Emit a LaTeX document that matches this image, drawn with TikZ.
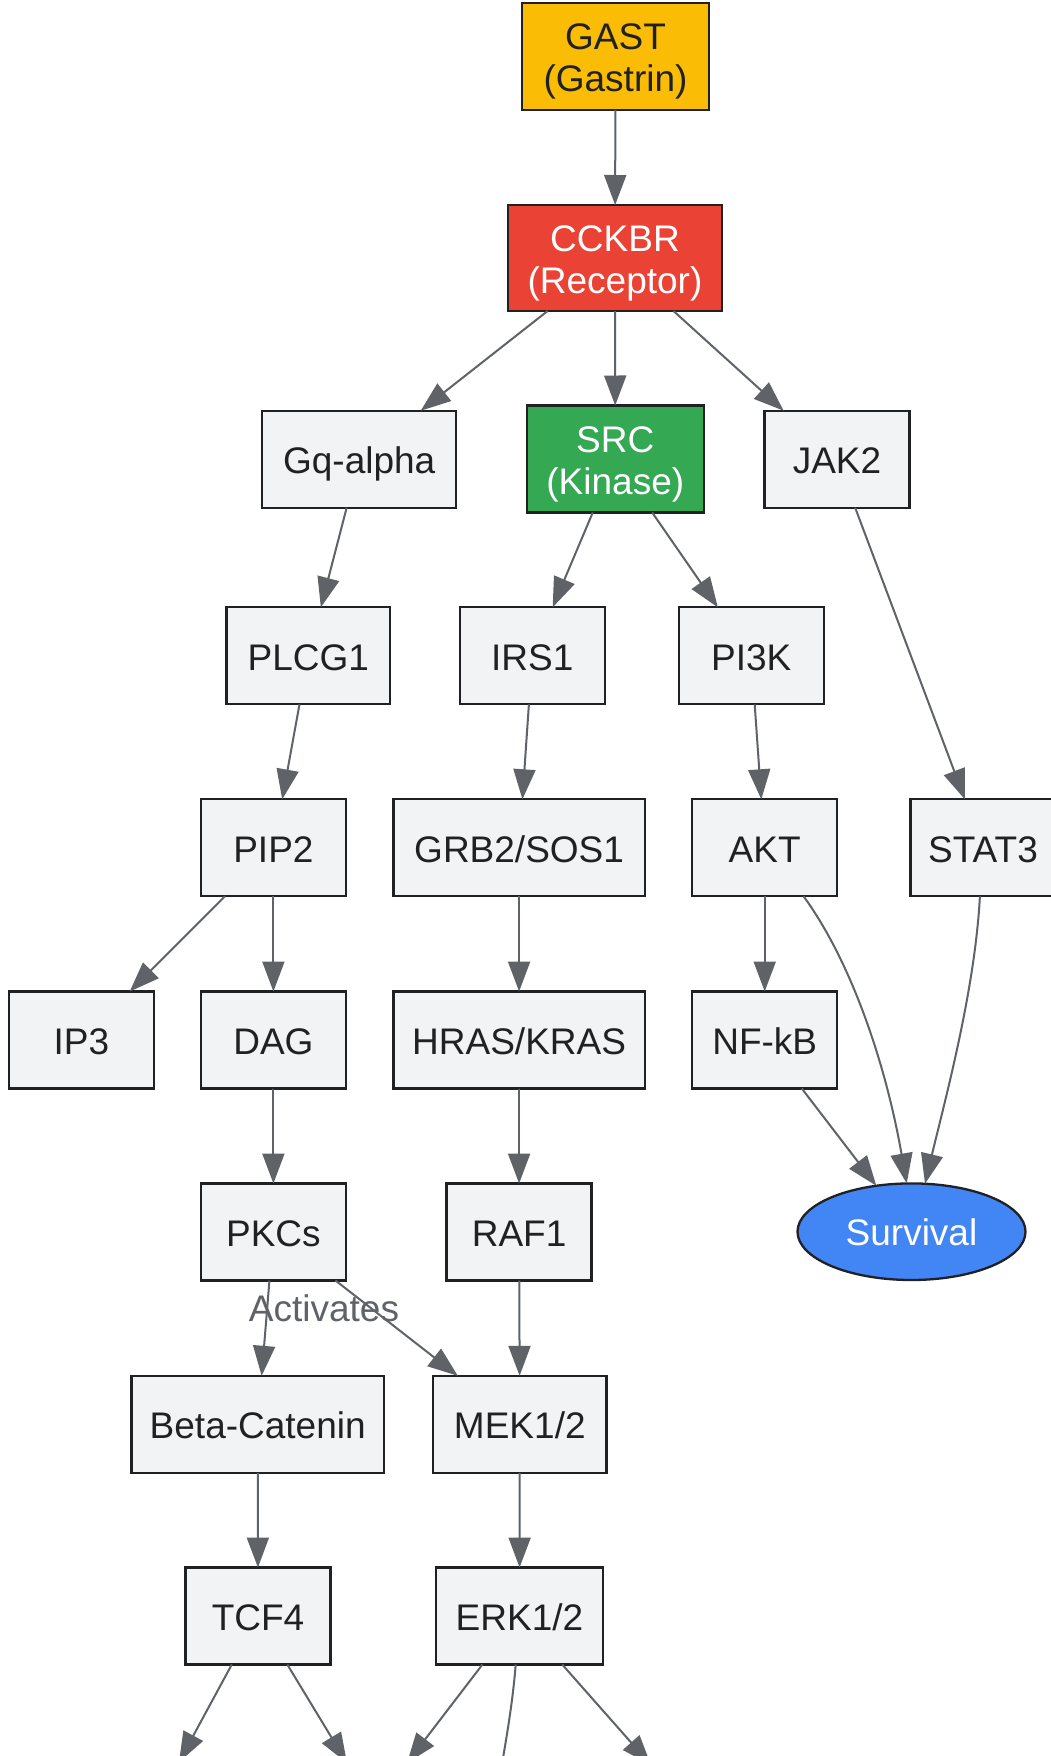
\documentclass[tikz,border=0pt]{standalone}
\usepackage{fontspec}
\setmainfont{Liberation Sans}
\usetikzlibrary{shapes.geometric,arrows.meta}
\definecolor{edgegray}{HTML}{5F6368}
\definecolor{boxfill}{HTML}{F1F3F4}
\definecolor{boxline}{HTML}{202124}
\definecolor{gyellow}{HTML}{FBBC05}
\definecolor{gred}{HTML}{EA4335}
\definecolor{ggreen}{HTML}{34A853}
\definecolor{gblue}{HTML}{4285F4}
\begin{document}
\begin{tikzpicture}[x=1pt,y=-1pt,
  base/.style={draw=boxline, line width=2.3pt, inner sep=0pt, outer sep=0pt,
    font=\fontsize{37}{42}\selectfont, align=center},
  box/.style={base, fill=boxfill, text=boxline, minimum height=97pt,
    text height=36pt, text depth=7.6pt},
  twoline/.style={base, minimum height=107pt},
  link/.style={draw=edgegray, line width=2pt, -{Triangle[length=30pt,width=22pt]}},
  plainlink/.style={draw=edgegray, line width=2pt}]
\useasboundingbox (0,0) rectangle (1051,1756);
\fill[white] (0,0) rectangle (1051,1756);

% row 1-2
\node[twoline, fill=gyellow, text=boxline, minimum width=187pt] (gast) at (615.5,56.5) {\rule{0pt}{36pt}GAST\\(Gastrin)};
\node[twoline, fill=gred, text=white, minimum width=214pt, minimum height=106pt] (cckbr) at (615,258) {\rule{0pt}{36pt}CCKBR\\(Receptor)};
% row 3
\node[box, minimum width=194pt] (gq) at (359.2,459.2) {Gq-alpha};
\node[twoline, fill=ggreen, text=white, minimum width=177pt] (src) at (615.3,459) {\rule{0pt}{36pt}SRC\\(Kinase)};
\node[box, minimum width=145pt] (jak2) at (837,459.2) {JAK2};
% row 4
\node[box, minimum width=163.5pt] (plcg1) at (308.3,655.8) {PLCG1};
\node[box, minimum width=145pt] (irs1) at (532.2,655.8) {IRS1};
\node[box, minimum width=145pt] (pi3k) at (751.3,655.8) {PI3K};
% row 5
\node[box, minimum width=145pt] (pip2) at (273.4,847.8) {PIP2};
\node[box, minimum width=251.4pt] (grb2) at (519.1,847.8) {GRB2/SOS1};
\node[box, minimum width=145pt] (akt) at (764.7,847.8) {AKT};
\node[box, minimum width=145pt] (stat3) at (983,847.8) {STAT3};
% row 6
\node[box, minimum width=145pt] (ip3) at (81.4,1040) {IP3};
\node[box, minimum width=145pt] (dag) at (273.4,1040) {DAG};
\node[box, minimum width=251.4pt] (hras) at (519.1,1040) {HRAS/KRAS};
\node[box, minimum width=145pt] (nfkb) at (764.7,1040) {NF-kB};
% row 7
\node[box, minimum width=145pt] (pkcs) at (273.4,1232) {PKCs};
\node[box, minimum width=145pt] (raf1) at (519.1,1232) {RAF1};
\node[base, ellipse, fill=gblue, text=white, minimum width=228pt, minimum height=96.6pt,
  text height=36pt, text depth=7.6pt] (survival) at (911.5,1231.7) {Survival};
% row 8
\node[box, minimum width=252.6pt] (betacat) at (257.7,1424.3) {Beta-Catenin};
\node[box, minimum width=173.6pt] (mek) at (519.8,1424.3) {MEK1/2};
% row 9
\node[box, minimum width=145pt] (tcf4) at (258,1616) {TCF4};
\node[box, minimum width=167.5pt] (erk) at (519.5,1616) {ERK1/2};

% off-canvas targets
\coordinate (o1) at (179,1762);
\coordinate (o2) at (347,1763);
\coordinate (o3) at (407,1763);
\coordinate (o4) at (496,1800);
\coordinate (o5) at (651,1765);

% edges
\draw[link] (gast) -- (cckbr);
\draw[link] (cckbr) -- (gq);
\draw[link] (cckbr) -- (src);
\draw[link] (cckbr) -- (jak2);
\draw[link] (gq) -- (plcg1);
\draw[link] (src) -- (irs1);
\draw[link] (src) -- (pi3k);
\draw[link] (jak2) -- (stat3);
\draw[link] (plcg1) -- (pip2);
\draw[link] (irs1) -- (grb2);
\draw[link] (pi3k) -- (akt);
\draw[link] (pip2) -- (ip3);
\draw[link] (pip2) -- (dag);
\draw[link] (grb2) -- (hras);
\draw[link] (akt) -- (nfkb);
\draw[link] ([xshift=38.9pt]akt.south) .. controls (850,960) and (885,1060) .. ([xshift=-4.8pt]survival.north);
\draw[link] ([xshift=-3.1pt]stat3.south) .. controls (975,990) and (945,1100) .. ([xshift=13.5pt,yshift=-0.3pt]survival.north);
\draw[link] (dag) -- (pkcs);
\draw[link] (hras) -- (raf1);
\draw[link] (nfkb) -- (survival);
\draw[link] (pkcs) -- (betacat);
\draw[link] (pkcs) -- (mek);
\draw[link] (raf1) -- (mek);
\draw[link] (betacat) -- (tcf4);
\draw[link] (mek) -- (erk);
\draw[link] (tcf4) -- (o1);
\draw[link] (tcf4) -- (o2);
\draw[link] (erk) -- (o3);
\draw[plainlink] ([xshift=-3.8pt]erk.south) .. controls (512,1710) and (505,1745) .. (o4);
\draw[link] (erk) -- (o5);

\node[text=edgegray, font=\fontsize{37}{42}\selectfont, inner sep=0pt,
  text height=36pt, text depth=7.6pt] (actlabel) at (324,1307.5) {Activates};
\end{tikzpicture}
\end{document}
